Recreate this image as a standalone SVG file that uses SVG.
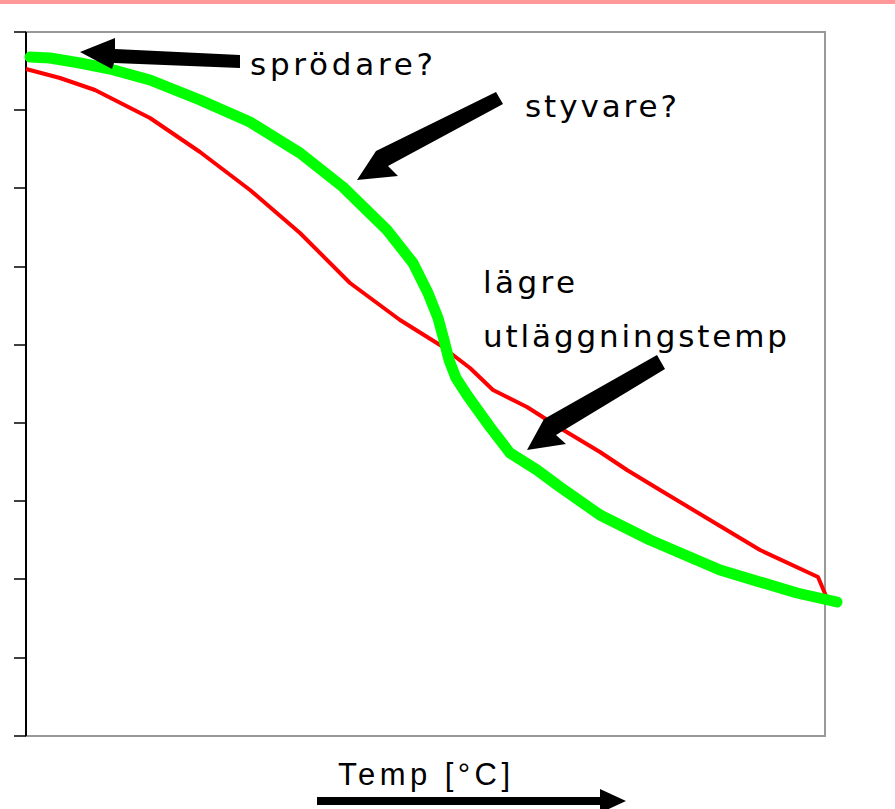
<svg xmlns="http://www.w3.org/2000/svg" width="895" height="809" viewBox="0 0 895 809">
<style>
.hand{font-family:"DejaVu Sans","Liberation Sans",sans-serif;font-size:31px;fill:#000}
.axis{font-family:"Liberation Sans",Arial,sans-serif;font-size:31px;fill:#000}
.tick{stroke:#000;stroke-width:1.5}
.arr{fill:#000}
</style>
<rect x="0" y="0" width="895" height="809" fill="#fff"/>
<rect x="0" y="0" width="895" height="4" fill="#ff9999"/>
<g id="plot">
<rect x="26" y="32" width="799" height="704" fill="none" stroke="#999" stroke-width="2"/>
<line x1="26" y1="32" x2="26" y2="736" stroke="#000" stroke-width="2"/>
<g class="tick">
<line x1="14" y1="32" x2="26" y2="32"/>
<line x1="14" y1="110" x2="26" y2="110"/>
<line x1="14" y1="188" x2="26" y2="188"/>
<line x1="14" y1="267" x2="26" y2="267"/>
<line x1="14" y1="345" x2="26" y2="345"/>
<line x1="14" y1="423" x2="26" y2="423"/>
<line x1="14" y1="501" x2="26" y2="501"/>
<line x1="14" y1="579" x2="26" y2="579"/>
<line x1="14" y1="658" x2="26" y2="658"/>
<line x1="14" y1="736" x2="26" y2="736"/>
</g>
</g>
<g id="red-curve">
<polyline fill="none" stroke="#ff0000" stroke-width="4" stroke-linejoin="round" points="26,69 60,78 95,90 150,118 200,152 250,190 300,233 350,283 400,320 440,345 470,368 493,390 527,407 560,428 600,452 627,470 660,490 710,520 760,550 818,577 826,596"/>
</g>
<g id="green-curve">
<polyline fill="none" stroke="#00ff00" stroke-width="11" stroke-linecap="round" stroke-linejoin="round" points="30,57 50,58 80,63 110,69 150,80 200,100 250,122 300,153 343,187 387,230 413,263 428,293 438,318 444,340 449,360 456,378 467,395 490,427 510,453 537,470 560,487 600,515 650,540 720,570 797,593 837,602"/>
</g>
<g id="connectors">
<polygon class="arr" points="80,52 115,38 115,49 240,55 240,68 114,63 112,69"/>
<polygon class="arr" points="357,180 376,151 496,92 503,104 388,166 398,176"/>
<polygon class="arr" points="527,450 544,419 657,355 665,369 556,435 566,444"/>
<polygon class="arr" points="317,797 600,797 600,789 626,801 600,813 600,805 317,805"/>
</g>
<g id="label-sprodare"><text class="hand" x="250" y="75" textLength="183" lengthAdjust="spacing">sprödare?</text></g>
<g id="label-styvare"><text class="hand" x="525" y="117" textLength="152" lengthAdjust="spacing">styvare?</text></g>
<g id="label-lagre">
<text class="hand" x="483" y="293" textLength="92" lengthAdjust="spacing">lägre</text>
<text class="hand" x="483" y="347" textLength="304" lengthAdjust="spacing">utläggningstemp</text>
</g>
<g id="label-temp"><text class="axis" x="338" y="785" textLength="172" lengthAdjust="spacing">Temp [°C]</text></g>
</svg>
